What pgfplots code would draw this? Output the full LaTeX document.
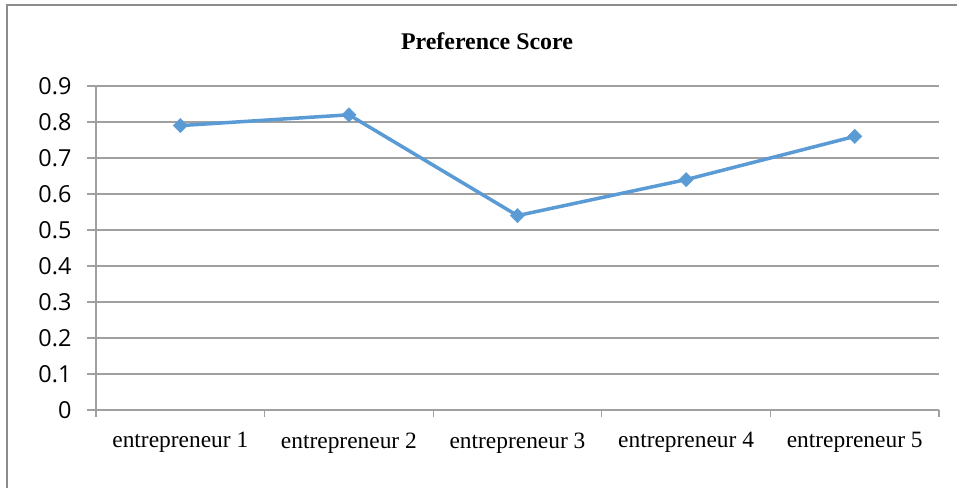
\documentclass[border=0pt]{standalone}
\usepackage{fontspec}
\setmainfont{Liberation Serif}
\newfontfamily\ysans{Open Sans}
\usepackage{pgfplots}
\pgfplotsset{compat=1.18}
\definecolor{linecol}{HTML}{5B9BD5}
\definecolor{gridcol}{HTML}{A0A0A0}
\definecolor{framecol}{HTML}{8C8C8C}
\begin{document}
\begin{tikzpicture}[x=1bp,y=1bp]
\path[use as bounding box] (0,0) rectangle (957,488);
\fill[white] (0,0) rectangle (957,488);
\draw[framecol, line width=2bp] (7,0) -- (7,483) -- (957,483);
\node[font=\fontsize{24}{28}\selectfont\bfseries] at (487,447) {Preference Score};
\begin{axis}[
  at={(96bp,78bp)}, anchor=south west,
  scale only axis, width=843bp, height=324bp,
  xmin=0.5, xmax=5.5, ymin=0, ymax=0.9,
  axis lines*=left,
  axis line style={gridcol, line width=1.3bp},
  xtick={1,2,3,4,5},
  xticklabels={entrepreneur 1,entrepreneur 2,entrepreneur 3,entrepreneur 4,entrepreneur 5},
  major x tick style={draw=none},
  minor xtick={0.5,1.5,2.5,3.5,4.5,5.5},
  minor x tick style={gridcol, line width=1.3bp},
  minor tick length=7bp,
  xtick align=outside,
  xticklabel style={font=\fontsize{23.5}{27}\selectfont, yshift=-10bp},
  ytick={0,0.1,0.2,0.3,0.4,0.5,0.6,0.7,0.8,0.9},
  yticklabels={0,0.1,0.2,0.3,0.4,0.5,0.6,0.7,0.8,0.9},
  ytick align=outside,
  major tick length=9bp,
  y tick style={gridcol, line width=1.3bp},
  yticklabel style={font=\ysans\fontsize{23.5}{27}\selectfont, xshift=-12bp},
  ymajorgrids,
  major grid style={gridcol, line width=1.3bp},
  /pgf/number format/assume math mode=true,
  clip=false,
]
\addplot[color=linecol, line width=3.5bp, mark=square*, mark size=5bp,
  mark options={rotate=45, fill=linecol, draw=linecol, line width=0.5bp}]
  coordinates {(1,0.79) (2,0.82) (3,0.54) (4,0.64) (5,0.76)};
\end{axis}
\end{tikzpicture}
\end{document}
